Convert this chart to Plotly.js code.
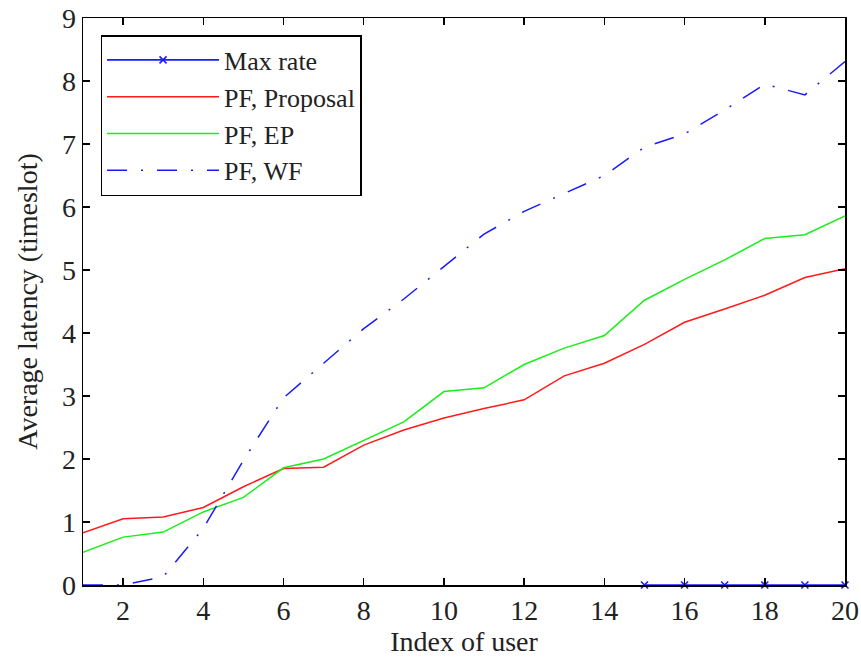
<!DOCTYPE html>
<html>
<head>
<meta charset="utf-8">
<script src="https://cdn.plot.ly/plotly-3.0.1.min.js"></script>
<style>html,body{margin:0;padding:0;background:#fff;}#chart{width:861px;height:660px;}</style>
</head>
<body>
<div id="chart"></div>
<script>
const users = [1,2,3,4,5,6,7,8,9,10,11,12,13,14,15,16,17,18,19,20];
const maxRate = [null,null,null,null,null,null,null,null,null,null,null,null,null,null,0,0,0,0,0,0];
const pfProposal = [0.83,1.05,1.08,1.23,1.56,1.85,1.87,2.22,2.46,2.65,2.80,2.94,3.32,3.52,3.82,4.17,4.38,4.60,4.88,5.02];
const pfEP = [0.52,0.76,0.84,1.16,1.39,1.86,2.00,2.29,2.59,3.07,3.13,3.50,3.76,3.96,4.52,4.85,5.16,5.50,5.56,5.86];
const pfWF = [0.0,0.0,0.13,0.90,1.98,2.97,3.52,4.07,4.54,5.06,5.57,5.93,6.22,6.50,6.95,7.16,7.54,7.95,7.78,8.31];
const xTicks = [2,4,6,8,10,12,14,16,18,20];
const yTicks = [0,1,2,3,4,5,6,7,8,9];

const font = "'Liberation Serif', 'Times New Roman', serif";
const fs = 28;
const traces = [
  {x: users, y: maxRate, name: 'Max rate', mode: 'lines+markers', cliponaxis: false,
   line: {color: '#1a1aff', width: 1.6}, marker: {symbol: 'x-thin', size: 7, color: '#1a1aff', line: {color: '#1a1aff', width: 1.6}}},
  {x: users, y: pfProposal, name: 'PF, Proposal', mode: 'lines', line: {color: '#ff1a1a', width: 1.5}},
  {x: users, y: pfEP, name: 'PF, EP', mode: 'lines', line: {color: '#1aee1a', width: 1.5}},
  {x: users, y: pfWF, name: 'PF, WF', mode: 'lines', line: {color: '#1a1aff', width: 1.5, dash: '20px,14px,2px,14px'}}
];
const layout = {
  width: 861, height: 660,
  margin: {l: 83, r: 16, t: 18, b: 75},
  paper_bgcolor: '#fff', plot_bgcolor: '#fff',
  font: {family: font, size: fs, color: '#222'},
  showlegend: true,
  legend: {x: 0.023, y: 0.97, xanchor: 'left', yanchor: 'top', bgcolor: '#fff',
    bordercolor: '#000', borderwidth: 1.5, font: {family: font, size: 26, color: '#222'},
    itemwidth: 112, tracegroupgap: 0},
  xaxis: {range: [1, 20], tickvals: xTicks, ticktext: xTicks.map(String),
    ticks: 'inside', ticklen: 7, tickwidth: 1.5, tickcolor: '#000',
    showline: true, linecolor: '#000', linewidth: 1.5, mirror: 'ticks',
    showgrid: false, zeroline: false,
    title: {text: 'Index of user', font: {family: font, size: fs, color: '#222'}, standoff: 1}},
  yaxis: {range: [0, 9], tickvals: yTicks, ticktext: yTicks.map(String),
    ticks: 'inside', ticklen: 7, tickwidth: 1.5, tickcolor: '#000',
    showline: true, linecolor: '#000', linewidth: 1.5, mirror: 'ticks',
    showgrid: false, zeroline: false,
    title: {text: 'Average latency (timeslot)', font: {family: font, size: fs, color: '#222'}, standoff: 16}}
};
Plotly.newPlot('chart', traces, layout, {displayModeBar: false, staticPlot: true});
</script>
</body>
</html>
